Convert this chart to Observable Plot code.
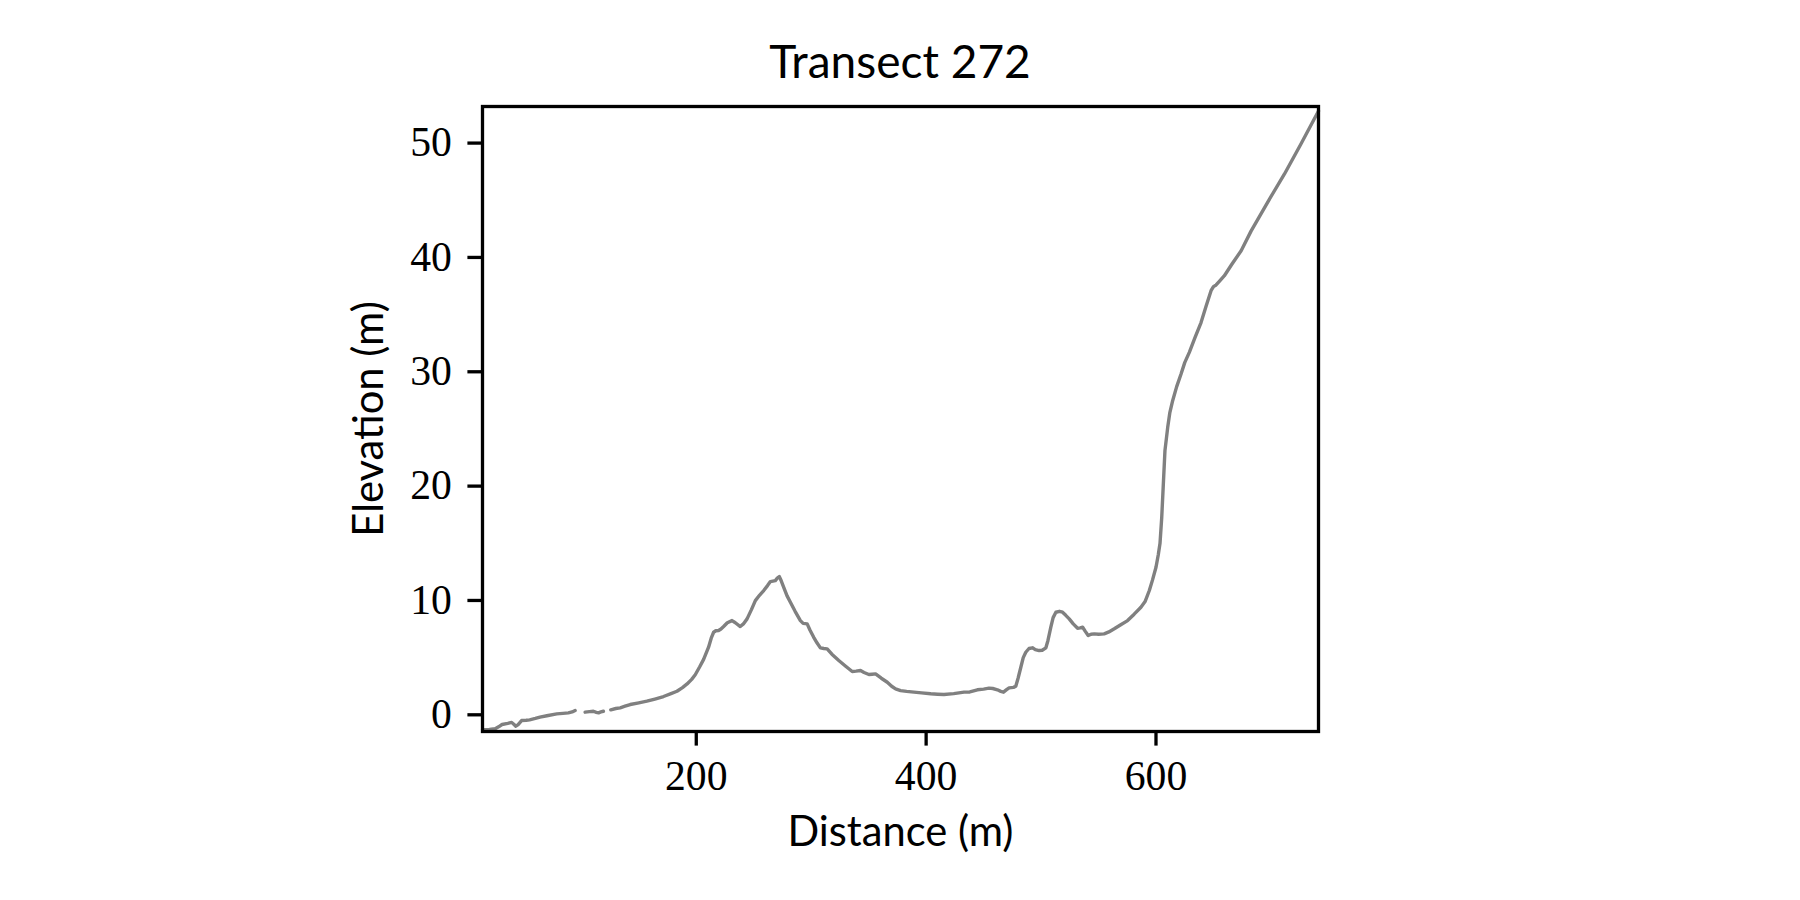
<!DOCTYPE html>
<html>
<head>
<meta charset="utf-8">
<script src="https://cdn.jsdelivr.net/npm/d3@7"></script>
<script src="https://cdn.jsdelivr.net/npm/@observablehq/plot@0.6"></script>
<style>
  body { margin: 0; background: #fff; }
  #wrap { position: relative; width: 1800px; height: 900px; }
  #title { position: absolute; left: 0; top: 38px; width: 1800px; text-align: center;
           font-family: Lato, sans-serif; font-size: 46px; line-height: 1; color: #000; }
  g[aria-label="x-axis label"] text, g[aria-label="y-axis label"] text { font-family: Lato, sans-serif; }
</style>
</head>
<body>
<div id="wrap"><div id="title">Transect 272</div></div>
<script>
const titleText = "Transect 272";
const xLabel = "Distance (m)";
const yLabel = "Elevation (m)";
const xTicks = [200, 400, 600];
const yTicks = [0, 10, 20, 30, 40, 50];

const distance = [
  14, 20, 25, 28, 31, 36, 39.4, 41, 43, 45, 48, 52, 55, 60, 64, 70, 78.6, 84, 88.7, 92, 94.6,
  99,
  103.3, 107, 110.5, 113, 115, 117, 119.2,
  122,
  125.6, 130, 133.8, 138, 142.5, 150, 157, 164, 171.5, 178, 183.2, 188, 192, 196, 199.1, 203,
  206.4, 210.7, 213, 215.1, 217, 219.4, 221.5, 223.8, 227, 231.1, 234, 238.3, 241, 244.2, 248,
  251.4, 255, 258.7, 262, 264.5, 268.8, 270.5, 272.3, 274, 276.1, 279, 281.9, 286, 290.6, 293,
  296.5, 299, 302.2, 305, 308, 311, 313.9, 318, 324, 330, 335.7, 339, 342.9, 346, 350.2, 353,
  356, 361, 366.2, 370, 373.4, 377.8, 383, 389.4, 396, 404, 410, 415.5, 424, 433, 438, 444.6,
  450, 454.7, 458, 462, 465, 467.3, 470, 472.2, 476, 478, 480, 482.4, 484.5, 486.7, 489.5, 492.5,
  495, 498.3, 501, 504.2, 506, 508.5, 510.5, 512.9, 516, 518.7, 521.5, 524.5, 528, 531.8, 534,
  536.2, 538.5, 541, 543.5, 546.3, 550, 554.9, 559, 563.7, 569, 575.3, 581, 586.9, 590.5, 594.2,
  597, 600, 602, 603.5, 605, 606.4, 607.8, 610.2, 612, 614.5, 618, 621.8, 625, 629, 634, 639.2,
  643.5, 647.9, 650, 652.3, 655.5, 659.5, 666, 674.1, 682.7, 697, 711.8, 726, 741.4
];
const elevation = [
  -1.31, -1.28, -1.22, -1.05, -0.85, -0.75, -0.67, -0.8, -1.0, -0.85, -0.5, -0.48, -0.44, -0.32, -0.2, -0.08, 0.08, 0.13, 0.17, 0.25, 0.38,
  null,
  0.23, 0.28, 0.31, 0.22, 0.17, 0.25, 0.31,
  null,
  0.44, 0.55, 0.61, 0.75, 0.9, 1.05, 1.19, 1.38, 1.6, 1.85, 2.06, 2.38, 2.7, 3.1, 3.5, 4.2,
  4.85, 5.91, 6.7, 7.22, 7.35, 7.37, 7.5, 7.72, 8.05, 8.24, 8.05, 7.72, 7.95, 8.39, 9.2,
  9.99, 10.45, 10.87, 11.3, 11.65, 11.74, 11.95, 12.09, 11.7, 11.15, 10.4, 9.84, 9.05, 8.24, 8.0,
  7.95, 7.4, 6.78, 6.3, 5.85, 5.8, 5.77, 5.3, 4.75, 4.25, 3.79, 3.82, 3.87, 3.7, 3.52, 3.55,
  3.58, 3.2, 2.85, 2.5, 2.27, 2.12, 2.05, 1.98, 1.92, 1.84, 1.8, 1.77, 1.85, 1.98, 2.0, 2.19,
  2.25, 2.33, 2.3, 2.19, 2.05, 1.98, 2.2, 2.36, 2.4, 2.5, 3.2, 4.16, 5.0, 5.47, 5.8, 5.86,
  5.7, 5.62, 5.65, 5.86, 6.5, 7.66, 8.5, 8.97, 9.05, 8.97, 8.7, 8.39, 7.95, 7.57, 7.6,
  7.66, 7.3, 6.93, 7.05, 7.08, 7.05, 7.08, 7.25, 7.52, 7.85, 8.24, 8.8, 9.41, 9.9, 10.87,
  11.8, 12.9, 14.0, 15.0, 17.27, 20.19, 23.1, 25.14, 26.4, 27.47, 28.7, 29.8, 30.8, 31.7, 33.0, 34.3,
  35.7, 37.09, 37.45, 37.59, 37.95, 38.4, 39.4, 40.59, 42.3, 44.8, 47.3, 49.9, 52.8
];

document.getElementById("title").textContent = titleText;

const data = distance.map((d, i) => ({distance: d, elevation: elevation[i]}));

const chart = Plot.plot({
  width: 1800,
  height: 900,
  marginLeft: 482,
  marginRight: 482,
  marginTop: 106,
  marginBottom: 169,
  style: {fontFamily: "'Liberation Serif', serif", fontSize: "41.7px", background: "#fff", color: "#000"},
  x: {domain: [14, 741.4]},
  y: {domain: [-1.46, 53.2]},
  marks: [
    Plot.line(data, {x: "distance", y: "elevation", stroke: "#808080", strokeWidth: 3.4}),
    Plot.frame({stroke: "#000", strokeWidth: 3.3}),
    Plot.axisX({ticks: xTicks, tickSize: 14.6, tickPadding: 14, strokeWidth: 3.3, stroke: "#000",
                label: xLabel, labelAnchor: "center", labelArrow: "none", labelOffset: 114}),
    Plot.axisY({ticks: yTicks, tickSize: 14.6, tickPadding: 16, strokeWidth: 3.3, stroke: "#000",
                label: yLabel, labelAnchor: "center", labelArrow: "none", labelOffset: 129})
  ]
});
document.getElementById("wrap").appendChild(chart);
</script>
</body>
</html>
